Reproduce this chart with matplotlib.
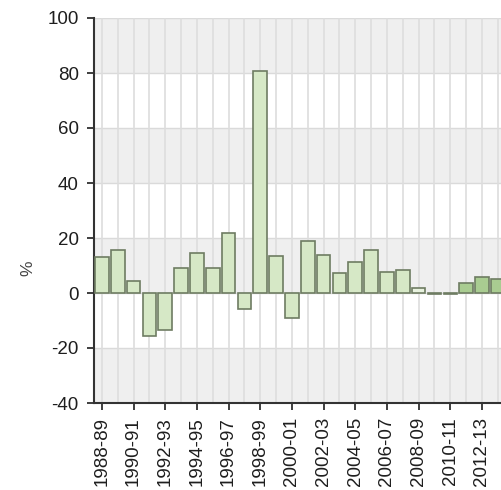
import matplotlib.pyplot as plt

years = ['1988-89', '1989-90', '1990-91', '1991-92', '1992-93', '1993-94',
         '1994-95', '1995-96', '1996-97', '1997-98', '1998-99', '1999-00',
         '2000-01', '2001-02', '2002-03', '2003-04', '2004-05', '2005-06',
         '2006-07', '2007-08', '2008-09', '2009-10', '2010-11', '2011-12',
         '2012-13', '2013-14']
values = [13.2, 15.7, 4.5, -15.6, -13.4, 9.0, 14.4, 9.0, 21.8, -5.8,
          80.6, 13.6, -9.1, 19.0, 13.8, 7.1, 11.1, 15.6, 7.7, 8.4,
          2.0, -0.3, -0.3, 3.5, 6.0, 5.1]

light = '#d6e8c6'
dark = '#a9cc91'
colors = [light] * 20 + ['#e8f2df', light, light, dark, dark, dark]

plt.rcParams['font.family'] = ['Liberation Sans', 'DejaVu Sans']
plt.rcParams['axes.unicode_minus'] = False

fig = plt.figure(figsize=(5.01, 4.90), dpi=100)
ax = fig.add_axes([94 / 501, 1 - 403 / 490, 1 - 94 / 501, (403 - 18) / 490])

# alternating bands
for lo in (-40, 0, 40, 80):
    ax.axhspan(lo, lo + 20, color='#efefef', zorder=0, lw=0)
for y in range(-20, 101, 20):
    ax.axhline(y, color='#dadada', lw=1, zorder=1)
for i in range(len(years)):
    ax.axvline(i, color='#dddddd', lw=1.2, zorder=1)

x = list(range(len(years)))
ax.bar(x, values, width=0.86, color=colors, edgecolor='#6e7c62', lw=1.2, zorder=3)

ax.set_xlim(-0.5, 25.2)
ax.set_ylim(-40, 100)
ax.set_yticks(range(-40, 101, 20))
ax.set_xticks(x[::2])
ax.set_xticklabels(years[::2], rotation=90)
fig.text(28 / 501, 1 - 268 / 490, '%', rotation=90, fontsize=12.5,
         color='#444444', ha='center', va='center')

ax.tick_params(axis='both', labelsize=13.5, colors='#1e1e1e', length=5, width=1.2)
ax.tick_params(axis='y', pad=6)
ax.tick_params(axis='x', pad=5)
ax.spines['top'].set_visible(False)
ax.spines['right'].set_visible(False)
ax.spines['left'].set_color('#333333')
ax.spines['bottom'].set_color('#333333')
ax.spines['left'].set_linewidth(1.5)
ax.spines['bottom'].set_linewidth(1.5)

fig.savefig('out.png', dpi=100)
